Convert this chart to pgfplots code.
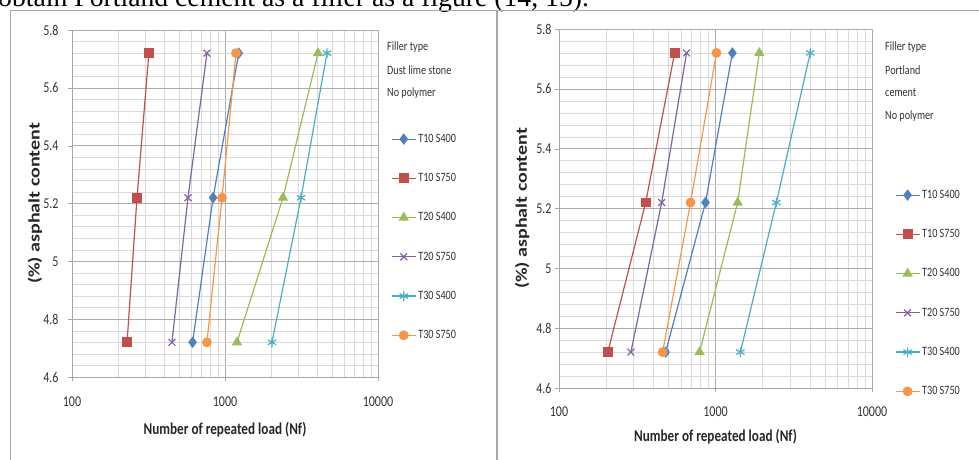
\documentclass[border=0pt]{standalone}
\usepackage{pgfplots}
\pgfplotsset{compat=1.18}
\usepackage{fontspec}
\setmainfont{Carlito}[FakeStretch=0.8]
\newfontfamily\ylabfont{Carlito}
\newfontfamily\seriffont{Liberation Serif}
\definecolor{cA}{HTML}{4F81BD}
\definecolor{cB}{HTML}{C0504D}
\definecolor{cC}{HTML}{9BBB59}
\definecolor{cD}{HTML}{8064A2}
\definecolor{cE}{HTML}{4BACC6}
\definecolor{cF}{HTML}{F79646}
\tikzset{
  sA/.style={color=cA, line width=1.2pt, mark=diamond*, mark size=4.8pt, mark options={fill=cA}},
  sB/.style={color=cB, line width=1.2pt, mark=square*, mark size=4.3pt, mark options={fill=cB}},
  sC/.style={color=cC, line width=1.2pt, mark=triangle*, mark size=4.8pt, mark options={fill=cC}},
  sD/.style={color=cD, line width=1.2pt, mark=x, mark size=4.8pt},
  sE/.style={color=cE, line width=1.2pt, mark=asterisk, mark size=4.8pt},
  sF/.style={color=cF, line width=1.2pt, mark=*, mark size=4.3pt, mark options={fill=cF}},
}
\begin{document}
\begin{tikzpicture}[x=1pt,y=1pt]
\node[anchor=base west, inner sep=0pt, font=\seriffont\fontsize{27.7}{30}\selectfont] at (-2,-6) {obtain Portland cement as a filler as a figure (14, 15).};
\draw[gray!70, line width=0.9pt] (10,-10) rectangle (497,-462);
\draw[gray!70, line width=0.9pt] (496,-462) -- (496,-10) -- (990,-10);

\begin{axis}[at={(72pt,-377pt)}, anchor=south west, width=306pt, height=347pt,
    xmode=log, scale only axis,
    xmin=100, xmax=10000, ymin=4.6, ymax=5.8,
    xtick={100,1000,10000}, xticklabels={100,1000,10000},
    minor xtick={200,300,400,500,600,700,800,900,2000,3000,4000,5000,6000,7000,8000,9000},
    ytick={4.6,4.8,5,5.2,5.4,5.6,5.8}, yticklabels={4.6,4.8,5,5.2,5.4,5.6,5.8},
    minor y tick num=4,
    grid=both,
    major grid style={draw=gray!65, line width=0.6pt},
    minor grid style={draw=gray!30, line width=0.4pt},
    axis lines=left, axis line style={-, draw=gray!70, line width=0.6pt},
    tick align=outside, major tick length=4pt, minor tick length=0pt,
    tick style={draw=gray!70},
    /pgf/number format/assume math mode=true,
    tick label style={font=\fontsize{15}{16}\selectfont, text=black!80},
    xticklabel style={yshift=-12pt},
    yticklabel style={xshift=-6pt},
    xlabel={Number of repeated load (Nf)},
    xlabel style={font=\fontsize{16.5}{18}\selectfont\bfseries, text=black!85, at={(axis description cs:0.5,-0.153)}, anchor=center},
    ylabel={\scalebox{1}[0.8]{(\%) asphalt content}},
    ylabel style={font=\ylabfont\fontsize{20}{22}\selectfont\bfseries, text=black!85, at={(axis description cs:-0.121,0.5)}, anchor=center},
    legend style={draw=none, fill=none, font=\fontsize{12.7}{14}\selectfont, row sep=25.5pt, inner sep=0pt, anchor=north west, text=black!80, at={(1.0425,0.706)}},
    legend cell align=left,
    legend image code/.code={\draw[mark repeat=2,mark phase=2] plot coordinates {(0cm,0cm) (0.42cm,0cm) (0.84cm,0cm)};},
  ]
\addplot[sA] coordinates {(614,4.72) (836,5.22) (1230,5.72)};
\addplot[sB] coordinates {(229,4.72) (266,5.22) (318,5.72)};
\addplot[sC] coordinates {(1197,4.72) (2393,5.22) (4055,5.72)};
\addplot[sD] coordinates {(450,4.72) (573,5.22) (762,5.72)};
\addplot[sE] coordinates {(2028,4.72) (3140,5.22) (4640,5.72)};
\addplot[sF] coordinates {(762,4.72) (956,5.22) (1180,5.72)};
\legend{T10 S400, T10 S750, T20 S400, T20 S750, T30 S400, T30 S750}
\end{axis}

\begin{axis}[at={(559pt,-388pt)}, anchor=south west, width=313pt, height=359pt,
    xmode=log, scale only axis,
    xmin=100, xmax=10000, ymin=4.6, ymax=5.8,
    xtick={100,1000,10000}, xticklabels={100,1000,10000},
    minor xtick={200,300,400,500,600,700,800,900,2000,3000,4000,5000,6000,7000,8000,9000},
    ytick={4.6,4.8,5,5.2,5.4,5.6,5.8}, yticklabels={4.6,4.8,5,5.2,5.4,5.6,5.8},
    minor y tick num=4,
    grid=both,
    major grid style={draw=gray!65, line width=0.6pt},
    minor grid style={draw=gray!30, line width=0.4pt},
    axis lines=left, axis line style={-, draw=gray!70, line width=0.6pt},
    tick align=outside, major tick length=4pt, minor tick length=0pt,
    tick style={draw=gray!70},
    /pgf/number format/assume math mode=true,
    tick label style={font=\fontsize{15}{16}\selectfont, text=black!80},
    xticklabel style={yshift=-11pt},
    xlabel={Number of repeated load (Nf)},
    xlabel style={font=\fontsize{16.5}{18}\selectfont\bfseries, text=black!85, at={(axis description cs:0.5,-0.136)}, anchor=center},
    ylabel={\scalebox{1}[0.8]{(\%) asphalt content}},
    ylabel style={font=\ylabfont\fontsize{20}{22}\selectfont\bfseries, text=black!85, at={(axis description cs:-0.118,0.5)}, anchor=center},
    legend style={draw=none, fill=none, font=\fontsize{12.7}{14}\selectfont, row sep=25.5pt, inner sep=0pt, anchor=north west, text=black!80, at={(1.073,0.557)}},
    legend cell align=left,
    legend image code/.code={\draw[mark repeat=2,mark phase=2] plot coordinates {(0cm,0cm) (0.42cm,0cm) (0.84cm,0cm)};},
  ]
\addplot[sA] coordinates {(480,4.72) (863,5.22) (1282,5.72)};
\addplot[sB] coordinates {(205,4.72) (358,5.22) (548,5.72)};
\addplot[sC] coordinates {(791,4.72) (1385,5.22) (1905,5.72)};
\addplot[sD] coordinates {(288,4.72) (453,5.22) (653,5.72)};
\addplot[sE] coordinates {(1442,4.72) (2448,5.22) (4030,5.72)};
\addplot[sF] coordinates {(459,4.72) (693,5.22) (1014,5.72)};
\legend{T10 S400, T10 S750, T20 S400, T20 S750, T30 S400, T30 S750}
\end{axis}

\begin{scope}[every node/.style={anchor=west, inner sep=0pt, font=\fontsize{12.7}{14}\selectfont, text=black!80}]
\node at (387,-47) {Filler type};
\node at (387,-70) {Dust lime stone};
\node at (387,-93) {No polymer};
\node at (885,-47) {Filler type};
\node at (885,-70) {Portland};
\node at (885,-93) {cement};
\node at (885,-116) {No polymer};
\end{scope}
\pgfresetboundingbox
\useasboundingbox (0,0) rectangle (979,-459);
\end{tikzpicture}
\end{document}
